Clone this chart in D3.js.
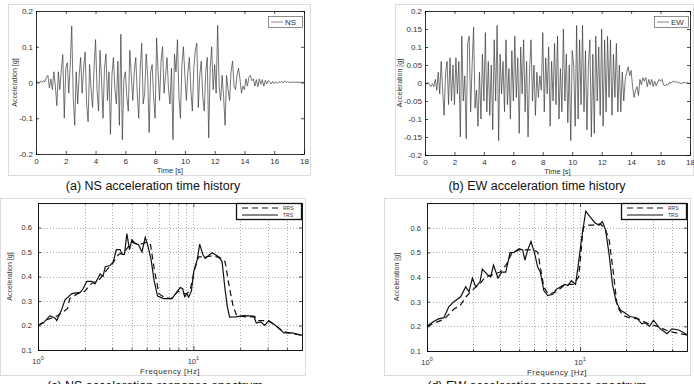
<!DOCTYPE html>
<html>
<head>
<meta charset="utf-8">
<script src="https://cdn.jsdelivr.net/npm/d3@7"></script>
<style>
  body { margin: 0; background: #fff; }
  svg { display: block; font-family: "Liberation Sans", Arial, sans-serif; }
</style>
</head>
<body>
<div id="chart"></div>
<script>
// acceleration time histories, one value every 0.1 s from 0 to 18 s
const dt = 0.1;
const nsAccel = [
  0, 0.003, -0.002, 0.004, 0, 0.005, 0.002, 0.015, 0.02, -0.015,
  0.01, -0.02, 0.03, -0.01, -0.065, 0.03, -0.02, 0.035, 0.078, -0.1,
  0.04, 0.055, -0.03, 0.05, 0.158, -0.04, -0.12, 0.03, -0.06, 0.02,
  0.07, -0.03, 0.04, 0.085, -0.06, -0.11, 0.05, -0.02, -0.07, 0.04,
  0.12, -0.02, -0.08, 0.09, 0.01, -0.1, 0.04, 0.08, -0.05, 0.03,
  -0.145, 0.02, 0.07, -0.02, -0.06, 0.06, -0.12, 0.135, -0.16, 0.01,
  0.03, -0.04, -0.08, 0.09, 0.02, -0.05, 0.03, 0.07, -0.03, -0.1,
  0.04, 0.11, -0.06, -0.03, 0.08, 0.02, -0.14, 0.03, 0.05, -0.04,
  -0.1, 0.125, 0.03, -0.05, 0.06, 0.1, -0.03, 0.02, 0.07, -0.02,
  -0.06, 0.04, -0.16, 0.08, 0.03, 0.12, -0.04, -0.1, 0.05, 0.1,
  0.02, -0.05, 0.03, 0.07, -0.02, -0.08, 0.04, 0.09, 0.11, -0.07,
  0.02, 0.06, -0.04, -0.08, 0.03, 0.07, -0.155, 0.04, 0.1, -0.02,
  0.05, -0.03, 0.16, -0.01, -0.05, 0.02, -0.04, -0.12, 0.02, -0.02,
  -0.05, 0.03, 0.06, -0.01, -0.02, 0.02, 0.04, 0.01, -0.03, -0.01,
  -0.02, 0.01, -0.01, 0.015, 0.02, 0.005, 0.01, -0.01, 0.008, -0.012,
  0.01, -0.005, 0.008, -0.01, 0.006, -0.004, 0.005, 0.002, -0.004, 0.003,
  -0.003, 0.002, -0.002, 0.002, 0, 0.003, -0.001, 0.004, 0.001, 0.002,
  0, 0.001, 0, 0.002, 0, 0.001, 0, 0.001, 0, 0.001,
  0
];
const ewAccel = [
  0, -0.003, 0.002, -0.005, -0.01, -0.002, -0.01, 0.01, -0.02, 0.03,
  -0.03, 0.06, -0.02, -0.09, 0.03, 0.06, -0.06, 0.07, -0.05, 0.05,
  -0.06, 0.07, -0.03, 0.06, -0.15, 0.13, -0.05, 0.02, -0.155, 0.11,
  0.13, -0.08, 0.05, 0.155, -0.07, -0.02, -0.12, 0.03, -0.1, 0.08,
  -0.05, 0.14, -0.08, 0.06, -0.09, 0.05, -0.13, 0.12, -0.05, 0.16,
  -0.16, 0.08, -0.03, 0.06, -0.08, 0.12, -0.06, 0.04, -0.1, 0.09,
  -0.05, 0.13, -0.04, 0.07, -0.14, 0.1, -0.03, 0.12, -0.08, 0.06,
  -0.15, 0.03, 0.12, -0.05, 0.05, -0.09, 0.03, -0.04, 0.02, -0.02,
  0.14, -0.08, 0.07, -0.03, 0.1, -0.12, 0.06, -0.05, 0.11, -0.06,
  0.13, -0.1, 0.04, -0.08, 0.15, -0.05, 0.08, -0.11, 0.05, -0.16,
  0.09, 0.05, -0.12, 0.16, -0.1, 0.12, -0.06, 0.16, -0.08, 0.09,
  -0.13, 0.05, 0.12, -0.15, 0.08, -0.14, 0.13, -0.05, 0.1, -0.09,
  0.15, -0.12, 0.12, -0.08, 0.13, -0.04, 0.12, -0.09, 0.08, -0.04,
  0.11, -0.08, 0.05, -0.08, 0.03, -0.05, 0.01, 0.03, 0.045, 0.02,
  0.035, -0.01, -0.04, -0.02, -0.01, -0.035, 0.01, -0.005, 0.015, 0.005,
  0.015, -0.01, 0.01, -0.005, 0.01, -0.01, 0.005, -0.008, 0.002, 0.01,
  0.005, 0.01, -0.005, -0.008, -0.003, -0.006, 0.002, 0, 0.003, 0.005,
  0.002, 0.004, 0, 0.002, -0.002, 0, 0.002, 0, 0.001, -0.001,
  0
];
const timeTicks = [0, 2, 4, 6, 8, 10, 12, 14, 16, 18];
const nsYTicks = [-0.2, -0.1, 0, 0.1, 0.2];
const ewYTicks = [-0.2, -0.15, -0.1, -0.05, 0, 0.05, 0.1, 0.15, 0.2];

// response spectra (frequency in Hz, acceleration in g)
const nsTrsFreq = [1.0, 1.08, 1.195, 1.287, 1.32, 1.42, 1.49, 1.65, 1.87, 1.95, 2.06, 2.22, 2.33, 2.51, 2.62, 2.71, 2.91, 3.05, 3.19, 3.38, 3.47, 3.6, 3.73, 3.88, 4.02, 4.22, 4.43, 4.67, 4.9, 5.07, 5.34, 5.6, 5.88, 6.43, 7.29, 7.85, 8.24, 8.53, 8.79, 9.1, 9.33, 9.7, 10.05, 10.6, 10.98, 11.5, 11.9, 13.2, 14.6, 15.3, 15.9, 16.5, 17.1, 18.7, 21.1, 24.5, 25.4, 27.1, 28.8, 30.6, 33.8, 38.3, 43.3, 50];
const nsTrsAcc = [0.2, 0.21, 0.24, 0.23, 0.22, 0.265, 0.304, 0.33, 0.335, 0.35, 0.38, 0.38, 0.37, 0.41, 0.4, 0.44, 0.445, 0.46, 0.51, 0.51, 0.49, 0.49, 0.575, 0.51, 0.55, 0.535, 0.53, 0.5, 0.56, 0.53, 0.47, 0.38, 0.32, 0.31, 0.31, 0.338, 0.355, 0.35, 0.318, 0.33, 0.315, 0.34, 0.42, 0.47, 0.532, 0.49, 0.474, 0.497, 0.48, 0.46, 0.36, 0.28, 0.234, 0.235, 0.24, 0.238, 0.21, 0.215, 0.2, 0.22, 0.2, 0.17, 0.17, 0.16];
const nsRrsFreq = [1, 1.15, 1.3, 1.45, 1.55, 1.6, 1.8, 2.0, 2.2, 2.5, 2.8, 3.0, 3.3, 3.6, 4.0, 4.5, 5.0, 5.3, 5.6, 6.0, 6.5, 7.2, 8.0, 8.5, 9.0, 9.5, 10.2, 10.8, 12, 13.5, 15, 16, 17, 18, 19, 22, 25, 26, 30, 33, 38, 45, 50];
const nsRrsAcc = [0.2, 0.225, 0.235, 0.255, 0.27, 0.31, 0.33, 0.34, 0.37, 0.39, 0.43, 0.45, 0.49, 0.5, 0.54, 0.53, 0.54, 0.53, 0.43, 0.33, 0.315, 0.31, 0.34, 0.33, 0.33, 0.34, 0.43, 0.48, 0.48, 0.485, 0.475, 0.46, 0.36, 0.28, 0.24, 0.235, 0.235, 0.22, 0.22, 0.205, 0.175, 0.165, 0.16];
const ewTrsFreq = [1.0, 1.105, 1.19, 1.29, 1.39, 1.5, 1.66, 1.79, 1.88, 1.98, 2.08, 2.22, 2.3, 2.48, 2.61, 2.72, 2.91, 3.07, 3.27, 3.49, 3.71, 4.0, 4.22, 4.36, 4.55, 4.78, 5.03, 5.29, 5.5, 5.8, 6.15, 6.64, 6.98, 7.53, 7.92, 8.34, 8.77, 9.35, 9.7, 10.2, 10.9, 11.6, 12.5, 13.3, 14.0, 14.7, 15.5, 16.3, 17.2, 18.4, 19.6, 21.2, 23.4, 25.3, 26.6, 28.4, 30.2, 33.4, 35.2, 37, 39.9, 44.2, 48.8, 50];
const ewTrsAcc = [0.2, 0.22, 0.23, 0.235, 0.28, 0.3, 0.32, 0.361, 0.34, 0.396, 0.36, 0.38, 0.432, 0.41, 0.4, 0.448, 0.396, 0.42, 0.42, 0.499, 0.5, 0.515, 0.51, 0.468, 0.51, 0.544, 0.5, 0.44, 0.42, 0.345, 0.325, 0.33, 0.35, 0.361, 0.37, 0.365, 0.385, 0.37, 0.44, 0.55, 0.667, 0.645, 0.62, 0.61, 0.625, 0.59, 0.49, 0.37, 0.3, 0.265, 0.255, 0.24, 0.235, 0.21, 0.215, 0.2, 0.225, 0.19, 0.18, 0.17, 0.19, 0.185, 0.17, 0.165];
const ewRrsFreq = [1, 1.3, 1.5, 1.65, 1.8, 2.0, 2.2, 2.4, 2.7, 3.0, 3.3, 3.6, 4.0, 4.5, 5.0, 5.3, 5.5, 5.8, 6.2, 7, 8, 9, 9.8, 10.5, 11, 12, 13.5, 14.5, 15.5, 16.5, 17.5, 19, 21, 24, 28, 32, 38, 45, 50];
const ewRrsAcc = [0.2, 0.23, 0.27, 0.285, 0.32, 0.35, 0.37, 0.4, 0.41, 0.42, 0.45, 0.5, 0.51, 0.51, 0.51, 0.5, 0.44, 0.36, 0.33, 0.34, 0.37, 0.37, 0.4, 0.6, 0.61, 0.61, 0.615, 0.6, 0.55, 0.42, 0.28, 0.245, 0.235, 0.23, 0.21, 0.2, 0.18, 0.17, 0.165];
const specYTicks = [0.1, 0.2, 0.3, 0.4, 0.5, 0.6];
const specMajorFreq = [1, 10];
const specMinorFreq = [2, 3, 4, 5, 6, 7, 8, 9, 20, 30, 40];

const captions = [
  "(a) NS acceleration time history",
  "(b) EW acceleration time history",
  "(c) NS acceleration response spectrum",
  "(d) EW acceleration response spectrum"
];

const svg = d3.select("#chart").append("svg")
  .attr("width", 694)
  .attr("height", 384);

// light grey figure frame behind each panel
function frame(f) {
  svg.append("rect")
    .attr("x", f.x + 0.5).attr("y", f.y + 0.5)
    .attr("width", f.w).attr("height", f.h)
    .attr("fill", "#fff")
    .attr("stroke", "#dcdcdc");
}

function caption(text, cx, y) {
  svg.append("text")
    .attr("x", cx).attr("y", y)
    .attr("text-anchor", "middle")
    .attr("font-size", 12.5)
    .attr("fill", "#111")
    .text(text);
}

function styleAxis(sel, size) {
  sel.select(".domain").remove();
  sel.attr("font-family", null).attr("font-size", size);
  sel.selectAll(".tick line").attr("stroke", "#000").attr("stroke-width", 0.7);
  sel.selectAll(".tick text").attr("fill", "#333");
}

// time history panel
function timeHistory(p, values, yTicks, legendLabel) {
  const x = d3.scaleLinear().domain([0, 18]).range([p.x, p.x + p.w]);
  const y = d3.scaleLinear().domain([-0.2, 0.2]).range([p.y + p.h, p.y]);
  const g = svg.append("g");
  const fmt = d => String(+d.toFixed(2));

  const line = d3.line()
    .x((d, i) => x(i * dt))
    .y(d => y(d));

  g.append("path")
    .datum(values)
    .attr("d", line)
    .attr("fill", "none")
    .attr("stroke", "#3a3a3a")
    .attr("stroke-width", 0.7);

  g.append("g")
    .attr("transform", `translate(0,${p.y + p.h})`)
    .call(d3.axisBottom(x).tickValues(timeTicks).tickSize(-3).tickPadding(4).tickFormat(d3.format("d")))
    .call(s => styleAxis(s, 8));
  g.append("g")
    .attr("transform", `translate(0,${p.y})`)
    .call(d3.axisTop(x).tickValues(timeTicks).tickSize(-3).tickFormat(""))
    .call(s => styleAxis(s, 8));
  g.append("g")
    .attr("transform", `translate(${p.x},0)`)
    .call(d3.axisLeft(y).tickValues(yTicks).tickSize(-3).tickPadding(3).tickFormat(fmt))
    .call(s => styleAxis(s, 8));
  g.append("g")
    .attr("transform", `translate(${p.x + p.w},0)`)
    .call(d3.axisRight(y).tickValues(yTicks).tickSize(-3).tickFormat(""))
    .call(s => styleAxis(s, 8));

  g.append("rect")
    .attr("x", p.x + 0.5).attr("y", p.y + 0.5)
    .attr("width", p.w).attr("height", p.h)
    .attr("fill", "none").attr("stroke", "#000").attr("stroke-width", 0.8);

  g.append("text")
    .attr("x", p.x + p.w / 2).attr("y", p.y + p.h + 19)
    .attr("text-anchor", "middle")
    .attr("font-size", 7.5).attr("fill", "#333")
    .text("Time [s]");
  g.append("text")
    .attr("transform", `translate(${p.yl},${p.y + p.h / 2}) rotate(-90)`)
    .attr("text-anchor", "middle")
    .attr("font-size", 7).attr("fill", "#333")
    .text("Acceleration [g]");

  // legend box
  const lg = g.append("g").attr("transform", `translate(${p.x + p.w - 36},${p.y + 5})`);
  lg.append("rect")
    .attr("x", 0.5).attr("y", 0.5).attr("width", 34).attr("height", 11)
    .attr("fill", "#fff").attr("stroke", "#444").attr("stroke-width", 0.6);
  lg.append("line")
    .attr("x1", 3).attr("x2", 15).attr("y1", 6).attr("y2", 6)
    .attr("stroke", "#555").attr("stroke-width", 0.7);
  lg.append("text")
    .attr("x", 17).attr("y", 9)
    .attr("font-size", 8).attr("fill", "#333")
    .text(legendLabel);
}

// response spectrum panel
function spectrum(p, trsF, trsA, rrsF, rrsA) {
  const x = d3.scaleLog().domain([1, 50]).range([p.x, p.x + p.w]);
  const y = d3.scaleLinear().domain([0.1, 0.7]).range([p.y + p.h, p.y]);
  const g = svg.append("g");

  // dotted grid
  g.selectAll(".vgrid")
    .data(specMinorFreq.concat([10]))
    .join("line")
    .attr("x1", d => Math.round(x(d)) + 0.5).attr("x2", d => Math.round(x(d)) + 0.5)
    .attr("y1", p.y).attr("y2", p.y + p.h)
    .attr("stroke", "#888").attr("stroke-width", 0.7).attr("stroke-dasharray", "1,2");
  g.selectAll(".hgrid")
    .data(specYTicks.slice(1))
    .join("line")
    .attr("x1", p.x).attr("x2", p.x + p.w)
    .attr("y1", d => Math.round(y(d)) + 0.5).attr("y2", d => Math.round(y(d)) + 0.5)
    .attr("stroke", "#888").attr("stroke-width", 0.7).attr("stroke-dasharray", "1,2");

  const line = d3.line()
    .x(d => x(d[0]))
    .y(d => y(d[1]));

  g.append("path")
    .datum(d3.zip(rrsF, rrsA))
    .attr("d", line)
    .attr("fill", "none").attr("stroke", "#111")
    .attr("stroke-width", 1.2).attr("stroke-dasharray", "6,4");
  g.append("path")
    .datum(d3.zip(trsF, trsA))
    .attr("d", line)
    .attr("fill", "none").attr("stroke", "#111")
    .attr("stroke-width", 1.2);

  // ticks on all four sides, minor ones shorter
  g.append("g")
    .attr("transform", `translate(0,${p.y + p.h})`)
    .call(d3.axisBottom(x).tickValues(specMajorFreq).tickSize(-4).tickFormat(""))
    .call(s => styleAxis(s, 8));
  g.append("g")
    .attr("transform", `translate(0,${p.y + p.h})`)
    .call(d3.axisBottom(x).tickValues(specMinorFreq).tickSize(-2).tickFormat(""))
    .call(s => styleAxis(s, 8));
  g.append("g")
    .attr("transform", `translate(0,${p.y})`)
    .call(d3.axisTop(x).tickValues(specMajorFreq).tickSize(-4).tickFormat(""))
    .call(s => styleAxis(s, 8));
  g.append("g")
    .attr("transform", `translate(0,${p.y})`)
    .call(d3.axisTop(x).tickValues(specMinorFreq).tickSize(-2).tickFormat(""))
    .call(s => styleAxis(s, 8));
  g.append("g")
    .attr("transform", `translate(${p.x},0)`)
    .call(d3.axisLeft(y).tickValues(specYTicks).tickSize(-3).tickPadding(6).tickFormat(d => d.toFixed(1)))
    .call(s => styleAxis(s, 7.5));
  g.append("g")
    .attr("transform", `translate(${p.x + p.w},0)`)
    .call(d3.axisRight(y).tickValues(specYTicks).tickSize(-3).tickFormat(""))
    .call(s => styleAxis(s, 7.5));

  g.append("rect")
    .attr("x", p.x + 0.5).attr("y", p.y + 0.5)
    .attr("width", p.w).attr("height", p.h)
    .attr("fill", "none").attr("stroke", "#000").attr("stroke-width", 0.9);

  // 10^0, 10^1 labels
  const lab = g.selectAll(".xlab")
    .data(specMajorFreq)
    .join("text")
    .attr("x", d => x(d)).attr("y", p.y + p.h + 14)
    .attr("text-anchor", "middle")
    .attr("font-size", 7.5).attr("fill", "#333");
  lab.append("tspan").text("10");
  lab.append("tspan").attr("dy", -4).attr("font-size", 5.5).text(d => Math.round(Math.log10(d)));

  g.append("text")
    .attr("x", p.x + p.w / 2).attr("y", p.y + p.h + 24)
    .attr("text-anchor", "middle")
    .attr("font-size", 8).attr("fill", "#333")
    .attr("letter-spacing", 0.4)
    .text("Frequency [Hz]");
  g.append("text")
    .attr("transform", `translate(${p.yl},${p.y + p.h / 2}) rotate(-90)`)
    .attr("text-anchor", "middle")
    .attr("font-size", 7).attr("fill", "#333")
    .text("Acceleration [g]");

  // legend
  const lg = g.append("g").attr("transform", `translate(${p.x + p.w - 66},${p.y})`);
  lg.append("rect")
    .attr("x", 0.5).attr("y", 0.5).attr("width", 65).attr("height", 16)
    .attr("fill", "#fff").attr("stroke", "#111").attr("stroke-width", 1.3);
  lg.append("line")
    .attr("x1", 6).attr("x2", 42).attr("y1", 5).attr("y2", 5)
    .attr("stroke", "#111").attr("stroke-width", 1.1).attr("stroke-dasharray", "6,4");
  lg.append("line")
    .attr("x1", 6).attr("x2", 42).attr("y1", 12).attr("y2", 12)
    .attr("stroke", "#111").attr("stroke-width", 1.1);
  lg.append("text").attr("x", 47).attr("y", 7)
    .attr("font-size", 5).attr("fill", "#333").text("RRS");
  lg.append("text").attr("x", 47).attr("y", 14)
    .attr("font-size", 5).attr("fill", "#333").text("TRS");
}

const pA = { x: 36, y: 11, w: 268, h: 143, yl: 17 };
const pB = { x: 425, y: 11, w: 265, h: 144, yl: 402 };
const pC = { x: 38, y: 203, w: 264, h: 147, yl: 12 };
const pD = { x: 427, y: 203, w: 260, h: 148, yl: 399 };

frame({ x: 8, y: 4, w: 302, h: 171 });
frame({ x: 395, y: 4, w: 298, h: 171 });
frame({ x: 0, y: 198, w: 305, h: 177 });
frame({ x: 384, y: 198, w: 306, h: 177 });

timeHistory(pA, nsAccel, nsYTicks, "NS");
timeHistory(pB, ewAccel, ewYTicks, "EW");
spectrum(pC, nsTrsFreq, nsTrsAcc, nsRrsFreq, nsRrsAcc);
spectrum(pD, ewTrsFreq, ewTrsAcc, ewRrsFreq, ewRrsAcc);

caption(captions[0], 153, 190);
caption(captions[1], 537, 190);
caption(captions[2], 155, 390);
caption(captions[3], 537, 390);
</script>
</body>
</html>
